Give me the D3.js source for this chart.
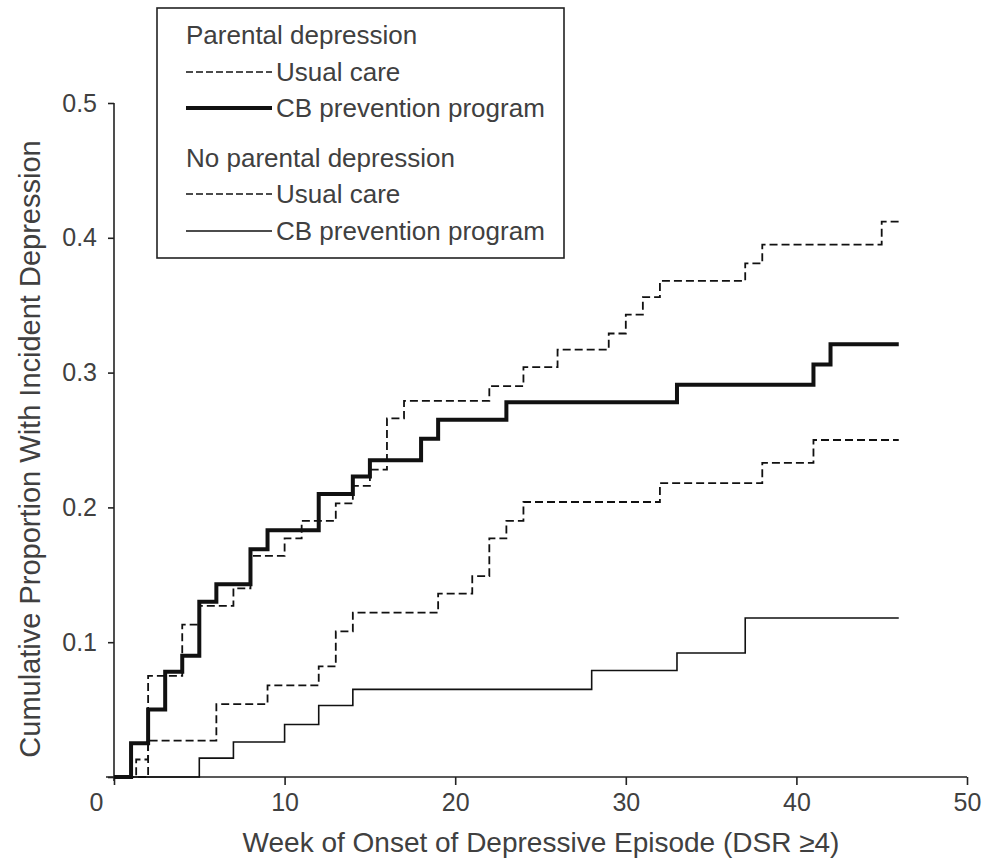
<!DOCTYPE html>
<html>
<head>
<meta charset="utf-8">
<script src="https://cdn.jsdelivr.net/npm/d3@7"></script>
<style>
  body { margin: 0; background: #fff; }
  svg text { font-family: "Liberation Sans", Arial, sans-serif; fill: #404040; }
</style>
</head>
<body>
<div id="chart"></div>
<script>
// Parental depression, usual care
const weeksPUC = [0, 1.3, 2, 4, 5, 7, 8, 10, 11, 13, 14, 15, 16, 17, 22, 24, 26, 29, 30, 31, 32, 37, 38, 45, 46];
const propPUC = [0, 0.013, 0.075, 0.113, 0.127, 0.140, 0.164, 0.177, 0.190, 0.203, 0.216, 0.228, 0.266, 0.279, 0.290, 0.304, 0.317, 0.329, 0.343, 0.356, 0.368, 0.381, 0.395, 0.412, 0.412];
// Parental depression, CB prevention program
const weeksPCB = [0, 1, 2, 3, 4, 5, 6, 8, 9, 12, 14, 15, 18, 19, 23, 33, 41, 42, 46];
const propPCB = [0, 0.025, 0.050, 0.078, 0.090, 0.130, 0.143, 0.169, 0.183, 0.210, 0.223, 0.235, 0.251, 0.265, 0.278, 0.291, 0.306, 0.321, 0.321];
// No parental depression, usual care
const weeksNUC = [0, 2, 6, 9, 12, 13, 14, 19, 21, 22, 23, 24, 32, 38, 41, 46];
const propNUC = [0, 0.027, 0.054, 0.068, 0.082, 0.108, 0.122, 0.136, 0.149, 0.177, 0.190, 0.204, 0.218, 0.233, 0.250, 0.250];
// No parental depression, CB prevention program
const weeksNCB = [0, 5, 7, 10, 12, 14, 28, 33, 37, 46];
const propNCB = [0, 0.014, 0.026, 0.039, 0.053, 0.065, 0.079, 0.092, 0.118, 0.118];

const xTicks = [0, 10, 20, 30, 40, 50];
const yTicks = [0, 0.1, 0.2, 0.3, 0.4, 0.5];

const width = 989, height = 866;

const svg = d3.select('#chart')
  .append('svg')
  .attr('width', width)
  .attr('height', height);

const x = d3.scaleLinear().domain([0, 50]).range([114, 967]);
const y = d3.scaleLinear().domain([0, 0.5]).range([777, 103]);

const series = [
  { w: weeksPUC, p: propPUC, sw: 1.8, dash: '8,4' },
  { w: weeksPCB, p: propPCB, sw: 4, dash: null },
  { w: weeksNUC, p: propNUC, sw: 1.8, dash: '8,4' },
  { w: weeksNCB, p: propNCB, sw: 1.6, dash: null }
];

const line = d3.line()
  .x(d => x(d[0]))
  .y(d => y(d[1]))
  .curve(d3.curveStepAfter);

// axes
const xAxis = svg.append('g')
  .attr('transform', `translate(0,${y(0)})`)
  .call(d3.axisBottom(x).tickValues(xTicks).tickSize(8).tickSizeOuter(0).tickPadding(8)
    .tickFormat(d3.format('d')));
xAxis.select('.domain').remove();
xAxis.append('line')
  .attr('x1', x(0) - 8).attr('x2', x(50))
  .attr('stroke', '#222').attr('stroke-width', 1.6);
xAxis.selectAll('.tick line').attr('stroke', '#222').attr('stroke-width', 1.6);
xAxis.selectAll('.tick text')
  .style('font-size', '25px')
  .attr('dx', d => d === 0 ? -18 : 0);

const yAxis = svg.append('g')
  .attr('transform', `translate(${x(0)},0)`)
  .call(d3.axisLeft(y).tickValues(yTicks).tickSize(6).tickSizeOuter(0).tickPadding(11)
    .tickFormat(d => d === 0 ? '' : d3.format('.1f')(d)));
yAxis.select('.domain').remove();
yAxis.append('line')
  .attr('y1', y(0) + 4).attr('y2', y(0.5))
  .attr('stroke', '#222').attr('stroke-width', 1.6);
yAxis.selectAll('.tick line').attr('stroke', '#222').attr('stroke-width', 1.6);
yAxis.selectAll('.tick text').style('font-size', '25px');

// axis titles
svg.append('text')
  .attr('x', 541).attr('y', 852)
  .attr('text-anchor', 'middle')
  .style('font-size', '28px')
  .text('Week of Onset of Depressive Episode (DSR \u22654)');

svg.append('text')
  .attr('transform', 'translate(40,449) rotate(-90)')
  .attr('text-anchor', 'middle')
  .style('font-size', '29px')
  .text('Cumulative Proportion With Incident Depression');

// curves
svg.append('g')
  .selectAll('path')
  .data(series)
  .join('path')
  .attr('d', s => line(s.w.map((w, i) => [w, s.p[i]])))
  .attr('fill', 'none')
  .attr('stroke', '#111')
  .attr('stroke-width', s => s.sw)
  .attr('stroke-dasharray', s => s.dash);

// legend
const legend = svg.append('g');
legend.append('rect')
  .attr('x', 157).attr('y', 8)
  .attr('width', 407).attr('height', 250)
  .attr('fill', '#fff')
  .attr('stroke', '#222')
  .attr('stroke-width', 1.6);

const legendRows = [
  { label: 'Parental depression', y: 35, head: true },
  { label: 'Usual care', y: 72, sw: 1.6, dash: '7,3' },
  { label: 'CB prevention program', y: 108, sw: 4, dash: null },
  { label: 'No parental depression', y: 158, head: true },
  { label: 'Usual care', y: 194, sw: 1.6, dash: '7,3' },
  { label: 'CB prevention program', y: 231, sw: 1.6, dash: null }
];

legendRows.forEach(r => {
  if (r.head) {
    legend.append('text')
      .attr('x', 186).attr('y', r.y)
      .attr('dy', '0.35em')
      .style('font-size', '26px')
      .text(r.label);
  } else {
    legend.append('line')
      .attr('x1', 186).attr('x2', 272)
      .attr('y1', r.y).attr('y2', r.y)
      .attr('stroke', '#111')
      .attr('stroke-width', r.sw)
      .attr('stroke-dasharray', r.dash);
    legend.append('text')
      .attr('x', 276).attr('y', r.y)
      .attr('dy', '0.35em')
      .style('font-size', '26px')
      .text(r.label);
  }
});
</script>
</body>
</html>
